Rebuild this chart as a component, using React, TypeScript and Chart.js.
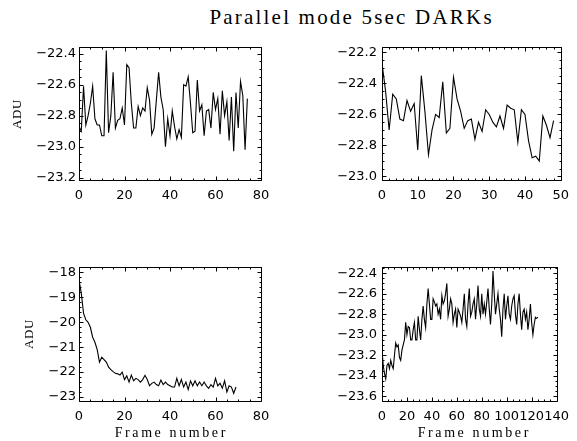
import React, { useEffect, useRef } from 'react';
import { Chart, registerables } from 'chart.js';

Chart.register(...registerables);

const TITLE = 'Parallel mode 5sec DARKs';
const Y_TITLE = 'ADU';
const X_TITLE = 'Frame number';

// Panel 1 (top-left): 75 frames
const adu1 = [
  -22.87, -22.90, -22.61, -22.86, -22.80, -22.72, -22.61, -22.82, -22.86, -22.86,
  -22.93, -22.93, -22.38, -22.91, -22.80, -22.52, -22.88, -22.83, -22.82, -22.75,
  -22.86, -22.47, -22.49, -22.72, -22.88, -22.88, -22.74, -22.80, -22.75, -22.77,
  -22.62, -22.70, -22.92, -22.88, -22.70, -22.52, -22.68, -22.76, -23.00, -22.82,
  -22.93, -22.77, -22.87, -22.95, -22.89, -22.94, -22.60, -22.61, -22.55, -22.72,
  -22.91, -22.90, -22.57, -22.77, -22.73, -22.93, -22.77, -22.76, -22.88, -22.65,
  -22.76, -22.69, -22.92, -22.64, -22.80, -22.71, -22.96, -22.68, -23.03, -22.65,
  -22.88, -22.58, -22.67, -23.02, -22.69,
];

// Panel 2 (top-right): 49 frames
const adu2 = [
  -22.27, -22.45, -22.70, -22.47, -22.50, -22.63, -22.64, -22.51, -22.58, -22.53,
  -22.83, -22.35, -22.58, -22.86, -22.70, -22.60, -22.62, -22.39, -22.72, -22.69,
  -22.36, -22.50, -22.58, -22.69, -22.64, -22.63, -22.76, -22.65, -22.71, -22.57,
  -22.60, -22.65, -22.68, -22.61, -22.69, -22.54, -22.56, -22.57, -22.78, -22.57,
  -22.60, -22.77, -22.88, -22.87, -22.90, -22.61, -22.67, -22.75, -22.64,
];

// Panel 3 (bottom-left): 70 frames
const adu3 = [
  -18.30, -18.83, -19.64, -19.90, -20.00, -20.20, -20.60, -20.80, -21.10, -21.60,
  -21.40, -21.50, -21.60, -21.80, -21.90, -21.98, -22.05, -22.07, -22.12, -22.00,
  -22.30, -22.15, -22.40, -22.12, -22.35, -22.25, -22.30, -22.40, -22.30, -22.13,
  -22.30, -22.55, -22.45, -22.40, -22.50, -22.55, -22.32, -22.50, -22.40, -22.50,
  -22.55, -22.60, -22.60, -22.25, -22.55, -22.30, -22.60, -22.40, -22.70, -22.35,
  -22.55, -22.35, -22.55, -22.40, -22.55, -22.40, -22.55, -22.65, -22.50, -22.60,
  -22.25, -22.55, -22.45, -22.65, -22.35, -22.80, -22.55, -22.60, -22.85, -22.60,
];

// Panel 4 (bottom-right): 126 frames
const adu4 = [
  -23.15, -23.30, -23.38, -23.43, -23.30, -23.28, -23.33, -23.25, -23.30, -23.33,
  -23.20, -23.08, -23.12, -23.10, -23.22, -23.25, -23.15, -23.10, -23.05, -22.88,
  -23.00, -22.92, -22.93, -23.05, -23.05, -22.95, -22.88, -23.05, -23.05, -22.82,
  -22.95, -23.05, -22.85, -22.72, -22.85, -22.93, -22.70, -22.55, -22.70, -22.85,
  -22.85, -22.65, -22.68, -22.72, -22.70, -22.80, -22.75, -22.85, -22.62, -22.70,
  -22.67, -22.60, -22.50, -22.82, -22.75, -22.65, -22.70, -22.88, -22.80, -22.75,
  -22.93, -22.75, -22.78, -22.82, -22.88, -22.75, -22.60, -22.85, -22.92, -22.70,
  -22.55, -22.82, -22.78, -22.70, -22.65, -22.85, -22.70, -22.52, -22.75, -22.82,
  -22.60, -22.80, -22.70, -22.80, -22.68, -22.55, -22.75, -22.90, -22.70, -22.38,
  -22.60, -22.80, -22.70, -22.60, -22.75, -22.85, -23.02, -22.75, -22.60, -22.85,
  -22.72, -22.62, -22.80, -22.85, -22.72, -22.65, -22.62, -22.80, -22.90, -22.70,
  -22.60, -22.80, -22.95, -22.78, -22.75, -22.85, -22.78, -22.95, -22.85, -22.70,
  -22.88, -23.00, -22.90, -22.83, -22.84, -22.83,
];

const xTicks1 = [0, 20, 40, 60, 80];
const xTicks2 = [0, 10, 20, 30, 40, 50];
const xTicks3 = [0, 20, 40, 60, 80];
const xTicks4 = [0, 20, 40, 60, 80, 100, 120, 140];

const yTicks1 = [-23.2, -23.0, -22.8, -22.6, -22.4];
const yTicks2 = [-23.0, -22.8, -22.6, -22.4, -22.2];
const yTicks3 = [-23, -22, -21, -20, -19, -18];
const yTicks4 = [-23.6, -23.4, -23.2, -23.0, -22.8, -22.6, -22.4];

const W = 577;
const H = 441;

const idlFrame = {
  id: 'idlFrame',
  afterDatasetsDraw(chart: any, _args: any, opts: any) {
    const { ctx, chartArea: a, scales } = chart;
    const xs = scales.x;
    const ys = scales.y;
    ctx.save();
    ctx.strokeStyle = '#000';
    ctx.lineWidth = 1;
    const L = Math.round(a.left) + 0.5;
    const R = Math.round(a.right) + 0.5;
    const T = Math.round(a.top) + 0.5;
    const B = Math.round(a.bottom) + 0.5;
    ctx.beginPath();
    ctx.rect(L, T, R - L, B - T);
    ctx.stroke();
    const majX: number[] = opts.xMajor;
    const majY: number[] = opts.yMajor;
    const xTick = (v: number, len: number) => {
      const p = Math.round(xs.getPixelForValue(v)) + 0.5;
      ctx.moveTo(p, B);
      ctx.lineTo(p, B - len);
      ctx.moveTo(p, T);
      ctx.lineTo(p, T + len);
    };
    const yTick = (v: number, len: number) => {
      const p = Math.round(ys.getPixelForValue(v)) + 0.5;
      ctx.moveTo(L, p);
      ctx.lineTo(L + len, p);
      ctx.moveTo(R, p);
      ctx.lineTo(R - len, p);
    };
    ctx.beginPath();
    majX.forEach((v) => xTick(v, 4));
    majY.forEach((v) => yTick(v, 4));
    const xm = opts.xMinor;
    for (let i = Math.ceil(xs.min / xm); i * xm <= xs.max + 1e-9; i++) xTick(i * xm, 2);
    const ym = opts.yMinor;
    for (let i = Math.ceil(ys.min / ym - 1e-9); i * ym <= ys.max + 1e-9; i++) yTick(i * ym, 2);
    ctx.stroke();
    ctx.restore();
  },
};

type Panel = {
  values: number[];
  xTicks: number[];
  yTicks: number[];
  xMin: number;
  xMax: number;
  yMin: number;
  yMax: number;
  xMinor: number;
  yMinor: number;
  area: [number, number, number, number];
  yDec: number;
  yLabelPad: number;
  yTitleX: number | null;
  showXTitle: boolean;
};

const panels: Panel[] = [
  {
    values: adu1, xTicks: xTicks1, yTicks: yTicks1,
    xMin: 0, xMax: 80, yMin: -23.215, yMax: -22.357,
    xMinor: 5, yMinor: 0.05, area: [79, 47, 261, 180], yDec: 1,
    yLabelPad: 3, yTitleX: 17, showXTitle: false,
  },
  {
    values: adu2, xTicks: xTicks2, yTicks: yTicks2,
    xMin: 0, xMax: 50, yMin: -23.023, yMax: -22.165,
    xMinor: 2, yMinor: 0.05, area: [382, 47, 564, 180], yDec: 1,
    yLabelPad: 5, yTitleX: null, showXTitle: false,
  },
  {
    values: adu3, xTicks: xTicks3, yTicks: yTicks3,
    xMin: 0, xMax: 80, yMin: -23.16, yMax: -17.78,
    xMinor: 5, yMinor: 0.2, area: [79, 267, 261, 401], yDec: 0,
    yLabelPad: 3, yTitleX: 29, showXTitle: true,
  },
  {
    values: adu4, xTicks: xTicks4, yTicks: yTicks4,
    xMin: 0, xMax: 140, yMin: -23.646, yMax: -22.34,
    xMinor: 5, yMinor: 0.05, area: [382, 267, 564, 401], yDec: 1,
    yLabelPad: 5, yTitleX: null, showXTitle: true,
  },
];

const tickFont = { family: 'DejaVu Sans', size: 13 };
const serif = '"Liberation Serif", "DejaVu Serif", serif';

function PanelChart({ p }: { p: Panel }) {
  const ref = useRef<HTMLCanvasElement | null>(null);
  useEffect(() => {
    if (!ref.current) return;
    const [L, T, R, B] = p.area;
    const chart = new Chart(ref.current, {
      type: 'line',
      data: {
        datasets: [
          {
            data: p.values.map((v, i) => ({ x: i, y: v })),
            borderColor: '#000',
            borderWidth: 1.1,
            pointRadius: 0,
            tension: 0,
            fill: false,
          },
        ],
      },
      plugins: [idlFrame],
      options: {
        animation: false,
        responsive: false,
        devicePixelRatio: 1,
        events: [],
        layout: { padding: { left: 0, top: T, right: W - R, bottom: 0 } },
        plugins: {
          legend: { display: false },
          tooltip: { enabled: false },
          title: { display: false },
          idlFrame: { xMajor: p.xTicks, yMajor: p.yTicks, xMinor: p.xMinor, yMinor: p.yMinor },
        } as any,
        scales: {
          x: {
            type: 'linear',
            min: p.xMin,
            max: p.xMax,
            grid: { display: false, drawTicks: false },
            border: { display: false },
            ticks: {
              autoSkip: false,
              maxRotation: 0,
              padding: 8,
              color: '#000',
              font: tickFont,
              callback: (v: any) => String(v),
            },
            afterBuildTicks: (s: any) => {
              s.ticks = p.xTicks.map((v) => ({ value: v }));
            },
            afterFit: (s: any) => {
              s.height = H - B;
            },
          },
          y: {
            type: 'linear',
            min: p.yMin,
            max: p.yMax,
            grid: { display: false, drawTicks: false },
            border: { display: false },
            ticks: {
              autoSkip: false,
              padding: p.yLabelPad,
              color: '#000',
              font: tickFont,
              callback: (v: any) => Number(v).toFixed(p.yDec).replace('-', '\u2212'),
            },
            afterBuildTicks: (s: any) => {
              s.ticks = p.yTicks.map((v) => ({ value: v }));
            },
            afterFit: (s: any) => {
              s.width = L;
            },
          },
        },
      } as any,
    });
    return () => chart.destroy();
  }, [p]);
  const [L, T, R, B] = p.area;
  return (
    <>
      <canvas
        ref={ref}
        width={W}
        height={H}
        style={{ position: 'absolute', left: 0, top: 0, width: W, height: H }}
      />
      {p.yTitleX !== null && (
        <div
          style={{
            position: 'absolute',
            left: p.yTitleX - 40,
            top: (T + B) / 2 - 8,
            width: 80,
            height: 16,
            lineHeight: '16px',
            textAlign: 'center',
            fontFamily: serif,
            fontSize: 13,
            letterSpacing: '0.6px',
            color: '#000',
            whiteSpace: 'nowrap',
            transform: 'rotate(-90deg)',
          }}
        >
          {Y_TITLE}
        </div>
      )}
      {p.showXTitle && (
        <div
          style={{
            position: 'absolute',
            left: (L + R) / 2 - 100 + 1.3,
            top: 425,
            width: 200,
            height: 16,
            lineHeight: '15px',
            textAlign: 'center',
            fontFamily: serif,
            fontSize: 14,
            letterSpacing: '2.6px',
            color: '#000',
            whiteSpace: 'nowrap',
          }}
        >
          {X_TITLE}
        </div>
      )}
    </>
  );
}

export default function App() {
  return (
    <div
      style={{
        position: 'absolute',
        left: 0,
        top: 0,
        width: W,
        height: H,
        background: '#fff',
        overflow: 'hidden',
      }}
    >
      <div
        style={{
          position: 'absolute',
          left: 350.5 - 200 + 1.1,
          width: 400,
          top: 7,
          textAlign: 'center',
          fontFamily: serif,
          fontSize: 21,
          lineHeight: '21px',
          letterSpacing: '2.2px',
          color: '#000',
          whiteSpace: 'nowrap',
        }}
      >
        {TITLE}
      </div>
      {panels.map((p, i) => (
        <PanelChart key={i} p={p} />
      ))}
    </div>
  );
}
